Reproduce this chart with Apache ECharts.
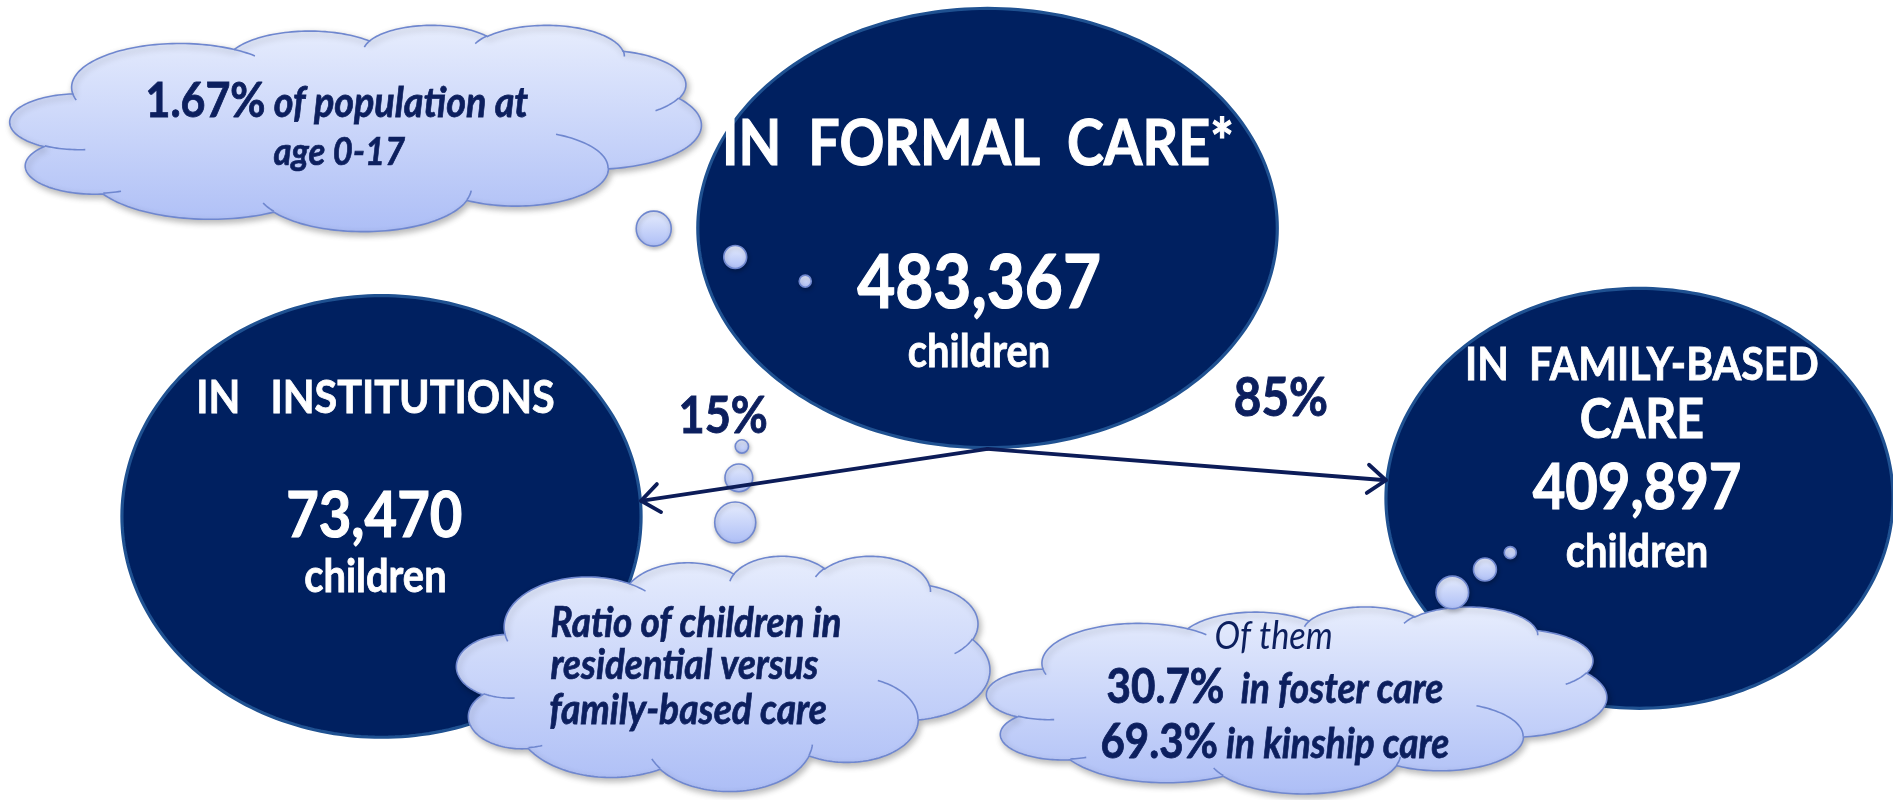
<!DOCTYPE html>
<html>
<head>
<meta charset="utf-8">
<script src="https://cdn.jsdelivr.net/npm/echarts@6/dist/echarts.min.js"></script>
<style>
html,body{margin:0;padding:0;background:#ffffff;}
#chart{width:1893px;height:800px;}
</style>
</head>
<body>
<div id="chart"></div>
<script>
// ------------------------------------------------------------------ data
const careGroups      = ['IN  FORMAL  CARE*', 'IN   INSTITUTIONS', 'IN  FAMILY-BASED\nCARE'];
const careCounts      = [483367, 73470, 409897];
const countUnit       = 'children';
const placementShares = [15, 85];                 // % in institutions, % in family-based care
const populationShare = 1.67;                     // % of population aged 0-17
const populationText  = ['of population at', 'age 0-17'];
const ratioNote       = ['Ratio of children in', 'residential versus', 'family-based care'];
const familyIntro     = 'Of them';
const familyShares    = [30.7, 69.3];
const familyTypes     = ['in foster care', 'in kinship care'];

// ------------------------------------------------------------------ layout (reference frame 1568 x 663)
const FRAME_W = 1568, FRAME_H = 663;
const ovalLayout = [
  { cx: 818, cy: 189, rx: 240, ry: 182,
    title: [{ x: 810, B: 137, w: 424 }], count: { x: 811, B: 255, w: 202 }, unit: { x: 811, B: 304, w: 118 } },
  { cx: 316, cy: 428, rx: 215, ry: 183,
    title: [{ x: 311, B: 342, w: 297 }], count: { x: 310, B: 445, w: 146 }, unit: { x: 311, B: 491, w: 118 } },
  { cx: 1358, cy: 413, rx: 210, ry: 174,
    title: [{ x: 1360, B: 315, w: 293 }, { x: 1360, B: 363, w: 103 }], count: { x: 1356, B: 422, w: 173 }, unit: { x: 1356, B: 470, w: 118 } }
];
const cloudLayout = [
  { x0: 8,   y0: 21,  x1: 581,  y1: 192 },
  { x0: 378, y0: 461, x1: 820,  y1: 656 },
  { x0: 817, y0: 503, x1: 1331, y1: 658 }
];
const cloudTextLayout = [
  [{ x: 279, B: 97, w: 317 }, { x: 281, B: 137, w: 109 }],
  [{ x: 456, B: 528, w: 241, align: 'left' }, { x: 456, B: 563, w: 222, align: 'left' }, { x: 455, B: 600, w: 230, align: 'left' }],
  [{ x: 1055, B: 538, w: 98 }, { x: 1056, B: 583, w: 279 }, { x: 1056, B: 628, w: 289 }]
];
const bubbleLayout = [
  { x: 541.5, y: 189.5, r: 14.5 }, { x: 609, y: 213, r: 9.5 }, { x: 667, y: 233, r: 5 },
  { x: 614.5, y: 370, r: 5.5 }, { x: 612, y: 396, r: 11.5 }, { x: 609, y: 433, r: 17 },
  { x: 1251, y: 458, r: 5 }, { x: 1230, y: 472, r: 9.5 }, { x: 1203, y: 491, r: 13.5 }
];
const arrowLayout = { origin: [818, 372], tips: [[531, 415], [1148, 398]], head: 15 };
const percentLayout = [{ x: 599, B: 359, w: 74 }, { x: 1061, B: 345, w: 78 }];

// ------------------------------------------------------------------ styles
const FONT = 'Lato';
const TEXT_SY = 1.13;          // vertical stretch so the face matches the reference's narrower letterforms
const NAVY_TEXT = '#0c1f5e';
const OVAL_FILL = '#002060';
const OVAL_EDGE = '#1f5191';
const CLOUD_EDGE = '#6f87cf';
const ARROW = '#0c1c58';
function cloudFill() {
  return new echarts.graphic.LinearGradient(0, 0, 0, 1, [
    { offset: 0, color: '#e7edfd' }, { offset: 1, color: '#adbef6' }
  ]);
}

// ------------------------------------------------------------------ text helpers
const mctx = document.createElement('canvas').getContext('2d');
function fontOf(size, bold, italic) {
  return (italic ? 'italic ' : '') + (bold ? 'bold ' : '') + size.toFixed(2) + 'px ' + FONT;
}
function segWidth(seg, size) {
  mctx.font = fontOf(size * (seg.s || 1), seg.b, seg.i);
  return mctx.measureText(seg.t).width;
}
function baseDrop(size, bold, italic) {
  mctx.font = fontOf(size, bold, italic);
  mctx.textBaseline = 'middle';
  const m = mctx.measureText('H');
  mctx.textBaseline = 'alphabetic';
  return m.actualBoundingBoxDescent;
}
function lineEls(api, spec, segs, color) {
  const k = api.size([1, 1]);
  const kx = Math.abs(k[0]);
  const p = api.coord([spec.x, spec.B]);
  const w100 = segs.reduce((a, g) => a + segWidth(g, 100), 0);
  const base = 100 * spec.w * kx / w100;
  const total = segs.reduce((a, g) => a + segWidth(g, base), 0);
  let x = spec.align === 'left' ? p[0] : p[0] - total / 2;
  const els = [];
  segs.forEach(g => {
    const sz = base * (g.s || 1);
    els.push({
      type: 'text',
      x: x, y: p[1], scaleY: TEXT_SY,
      style: {
        text: g.t, x: 0, y: -baseDrop(sz, g.b, g.i),
        fill: color, fontFamily: FONT, fontSize: sz,
        fontWeight: g.b ? 'bold' : 'normal', fontStyle: g.i ? 'italic' : 'normal',
        stroke: g.b ? color : null, lineWidth: g.b ? Math.min(1.1, sz * 0.018) : 0,
        align: 'left', verticalAlign: 'middle'
      }
    });
    x += segWidth(g, base);
  });
  return els;
}

// ------------------------------------------------------------------ cloud outline (preset cloud geometry)
const CLOUD = (function () {
  const outerArcs = [
    [6753, 9190, -11429249, 7426832], [5333, 7267, -8646143, 5396714], [4365, 5945, -8748475, 5983381],
    [4857, 6595, -7859164, 7034504], [5333, 7273, -4722533, 6541615], [6775, 9220, -2776035, 7816140],
    [5785, 7867, 37501, 6842000], [6752, 9215, 1347096, 6910353], [7720, 10543, 3974558, 4542661],
    [4360, 5918, -16496525, 8804134], [4345, 5945, -14809710, 9151131]
  ];
  const innerArcs = [
    [4693, 26177, 4345, 5945, 5204520, 1585770], [6928, 34899, 4360, 5918, 4416628, 686848],
    [16478, 39090, 6752, 9215, 8257449, 844866], [28827, 34751, 6752, 9215, 387196, 959901],
    [34129, 22954, 5785, 7867, -4217541, 4255042], [41798, 15354, 5333, 7273, 1819082, 1665090],
    [38324, 5426, 4857, 6595, -824660, 891534], [29078, 3952, 4857, 6595, -8950887, 1091722],
    [22141, 4720, 4365, 5945, -9809656, 1061181], [14000, 5192, 6753, 9190, -4002417, 739161],
    [4127, 15789, 6753, 9190, 9459261, 711490]
  ];
  const D = Math.PI / 180 / 60000;
  function arc(start, wR, hR, stAng, swAng, out) {
    const st = stAng * D, sw = swAng * D;
    const t1 = Math.atan2(wR * Math.sin(st), hR * Math.cos(st));
    const cx = start[0] - wR * Math.cos(t1), cy = start[1] - hR * Math.sin(t1);
    const e = st + sw;
    let t2 = Math.atan2(wR * Math.sin(e), hR * Math.cos(e));
    if (sw >= 0) { while (t2 <= t1) t2 += 2 * Math.PI; } else { while (t2 >= t1) t2 -= 2 * Math.PI; }
    const n = Math.max(6, Math.ceil(Math.abs(t2 - t1) / 0.04));
    for (let j = 1; j <= n; j++) {
      const t = t1 + (t2 - t1) * j / n;
      out.push([cx + wR * Math.cos(t), cy + hR * Math.sin(t)]);
    }
    return out[out.length - 1];
  }
  const outer = [[3900, 14370]];
  let cur = outer[0];
  outerArcs.forEach(a => { cur = arc(cur, a[0], a[1], a[2], a[3], outer); });
  const inner = innerArcs.map(a => { const pts = [[a[0], a[1]]]; arc(pts[0], a[2], a[3], a[4], a[5], pts); return pts; });
  let minX = Infinity, minY = Infinity, maxX = -Infinity, maxY = -Infinity;
  outer.forEach(p => { minX = Math.min(minX, p[0]); maxX = Math.max(maxX, p[0]); minY = Math.min(minY, p[1]); maxY = Math.max(maxY, p[1]); });
  const norm = p => [(p[0] - minX) / (maxX - minX), (p[1] - minY) / (maxY - minY)];
  return { outer: outer.map(norm), inner: inner.map(pts => pts.map(norm)) };
})();

function ellipsePts(cx, cy, rx, ry) {
  const pts = [];
  for (let j = 0; j < 240; j++) { const t = j / 240 * 2 * Math.PI; pts.push([cx + rx * Math.cos(t), cy + ry * Math.sin(t)]); }
  return pts;
}

// ------------------------------------------------------------------ note texts built from the data
function noteSegments(i) {
  if (i === 0) {
    return [
      [{ t: populationShare.toFixed(2) + '%', b: 1 }, { t: ' ' + populationText[0], b: 1, i: 1, s: 0.88 }],
      [{ t: populationText[1], b: 1, i: 1 }]
    ];
  }
  if (i === 1) return ratioNote.map(t => [{ t: t, b: 1, i: 1 }]);
  return [
    [{ t: familyIntro, i: 1 }],
    [{ t: familyShares[0].toFixed(1) + '%', b: 1 }, { t: '  ' + familyTypes[0], b: 1, i: 1, s: 0.88 }],
    [{ t: familyShares[1].toFixed(1) + '%', b: 1 }, { t: ' ' + familyTypes[1], b: 1, i: 1, s: 0.88 }]
  ];
}

// ------------------------------------------------------------------ renderers
function renderOval(params, api) {
  const i = params.dataIndex, L = ovalLayout[i];
  const c = api.coord([api.value(0), api.value(1)]);
  const s = api.size([1, 1]);
  const kx = Math.abs(s[0]), ky = Math.abs(s[1]);
  const children = [{
    type: 'polygon', shape: { points: ellipsePts(c[0], c[1], L.rx * kx, L.ry * ky) },
    style: { fill: OVAL_FILL, stroke: OVAL_EDGE, lineWidth: 3.2 }
  }];
  careGroups[i].split('\n').forEach((t, j) => {
    children.push(...lineEls(api, L.title[j], [{ t: t, b: 1 }], '#ffffff'));
  });
  children.push(...lineEls(api, L.count, [{ t: Number(api.value(2)).toLocaleString('en-US'), b: 1 }], '#ffffff'));
  children.push(...lineEls(api, L.unit, [{ t: countUnit, b: 1 }], '#ffffff'));
  return { type: 'group', children: children };
}

function renderCloud(params, api) {
  const i = params.dataIndex, L = cloudLayout[i];
  const a = api.coord([L.x0, L.y0]), b = api.coord([L.x1, L.y1]);
  const map = p => [a[0] + p[0] * (b[0] - a[0]), a[1] + p[1] * (b[1] - a[1])];
  const children = [{
    type: 'polygon', shape: { points: CLOUD.outer.map(map) },
    style: { fill: cloudFill(), stroke: CLOUD_EDGE, lineWidth: 1.6,
             shadowBlur: 6, shadowOffsetX: 2, shadowOffsetY: 3, shadowColor: 'rgba(0,0,0,0.28)' }
  }];
  CLOUD.inner.forEach(arcPts => {
    children.push({ type: 'polyline', shape: { points: arcPts.map(map) },
                    style: { fill: 'none', stroke: CLOUD_EDGE, lineWidth: 1.6 } });
  });
  noteSegments(i).forEach((segs, j) => {
    children.push(...lineEls(api, cloudTextLayout[i][j], segs, NAVY_TEXT));
  });
  return { type: 'group', children: children };
}

function renderBubble(params, api) {
  const c = api.coord([api.value(0), api.value(1)]);
  const kx = Math.abs(api.size([1, 1])[0]);
  return {
    type: 'circle', shape: { cx: c[0], cy: c[1], r: api.value(2) * kx },
    style: { fill: cloudFill(), stroke: CLOUD_EDGE, lineWidth: 1.6,
             shadowBlur: 4, shadowOffsetX: 1, shadowOffsetY: 2, shadowColor: 'rgba(0,0,0,0.25)' }
  };
}

function renderArrow(params, api) {
  const i = params.dataIndex;
  const kx = Math.abs(api.size([1, 1])[0]);
  const o = api.coord(arrowLayout.origin);
  const t = api.coord([api.value(0), api.value(1)]);
  const dx = t[0] - o[0], dy = t[1] - o[1], len = Math.hypot(dx, dy);
  const ux = dx / len, uy = dy / len;
  const hl = arrowLayout.head * kx, hw = hl * 0.78;
  const back = [t[0] - ux * hl, t[1] - uy * hl];
  const p1 = [back[0] - uy * hw, back[1] + ux * hw];
  const p2 = [back[0] + uy * hw, back[1] - ux * hw];
  const children = [
    { type: 'polyline', shape: { points: [o, t] }, style: { fill: 'none', stroke: ARROW, lineWidth: 3.8, lineCap: 'round' } },
    { type: 'polyline', shape: { points: [p1, t, p2] }, style: { fill: 'none', stroke: ARROW, lineWidth: 3.8, lineCap: 'round', lineJoin: 'round' } }
  ];
  children.push(...lineEls(api, percentLayout[i], [{ t: api.value(2) + '%', b: 1 }], NAVY_TEXT));
  return { type: 'group', children: children };
}

// ------------------------------------------------------------------ chart
const chart = echarts.init(document.getElementById('chart'), null, { renderer: 'canvas' });
chart.setOption({
  backgroundColor: '#ffffff',
  animation: false,
  tooltip: { show: false },
  grid: { left: 0, right: 0, top: 0, bottom: 0, containLabel: false },
  xAxis: { type: 'value', min: 0, max: FRAME_W, show: false },
  yAxis: { type: 'value', min: 0, max: FRAME_H, inverse: true, show: false },
  series: [
    { type: 'custom', name: 'care settings', coordinateSystem: 'cartesian2d', silent: true, clip: false, z: 2,
      encode: { x: 0, y: 1 },
      data: careCounts.map((v, i) => [ovalLayout[i].cx, ovalLayout[i].cy, v]),
      renderItem: renderOval },
    { type: 'custom', name: 'notes', coordinateSystem: 'cartesian2d', silent: true, clip: false, z: 3,
      encode: { x: 0, y: 1 },
      data: cloudLayout.map(c => [(c.x0 + c.x1) / 2, (c.y0 + c.y1) / 2]),
      renderItem: renderCloud },
    { type: 'custom', name: 'thought bubbles', coordinateSystem: 'cartesian2d', silent: true, clip: false, z: 4,
      encode: { x: 0, y: 1 },
      data: bubbleLayout.map(b => [b.x, b.y, b.r]),
      renderItem: renderBubble },
    { type: 'custom', name: 'placement split', coordinateSystem: 'cartesian2d', silent: true, clip: false, z: 5,
      encode: { x: 0, y: 1 },
      data: placementShares.map((s, i) => [arrowLayout.tips[i][0], arrowLayout.tips[i][1], s]),
      renderItem: renderArrow }
  ]
});
</script>
</body>
</html>
